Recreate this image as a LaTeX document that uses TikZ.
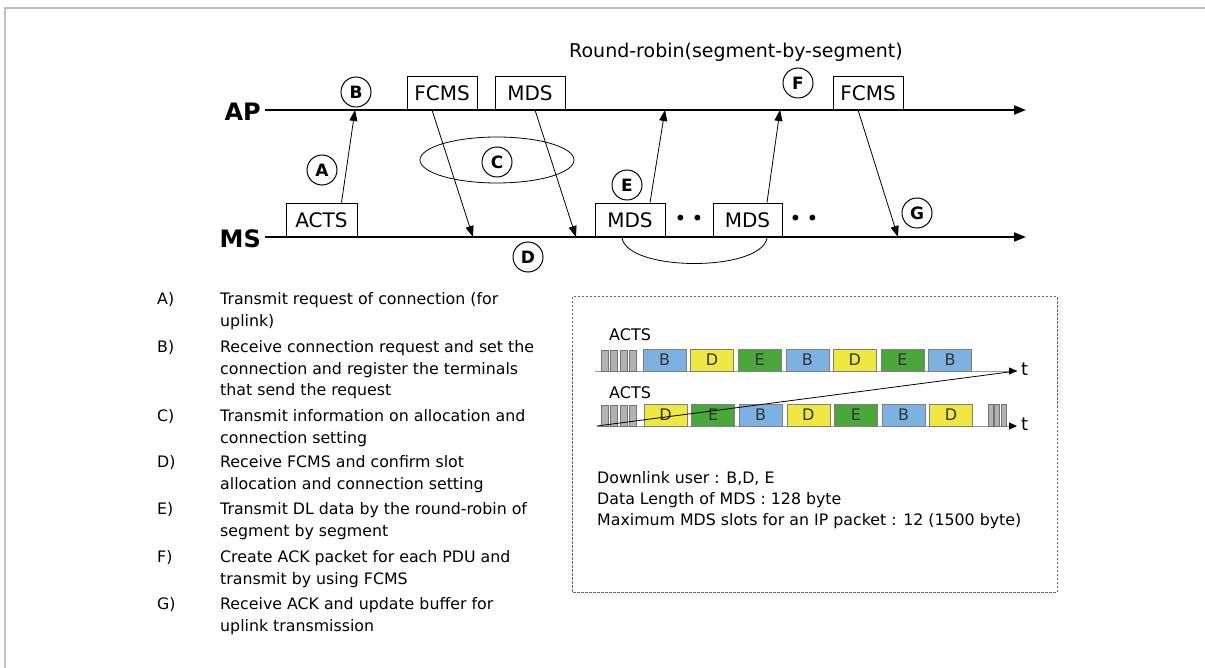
\documentclass[tikz,border=0pt]{standalone}
\usepackage{fontspec}
\setmainfont{DejaVu Sans}
\usetikzlibrary{arrows.meta,shapes.geometric}
\definecolor{slotblue}{RGB}{124,178,226}
\definecolor{slotyellow}{RGB}{238,232,64}
\definecolor{slotgreen}{RGB}{74,168,58}
\definecolor{framegray}{RGB}{192,192,192}
\tikzset{
	pkt/.style={draw,thin,minimum width=70pt,minimum height=34pt,inner sep=0pt,anchor=south,font=\fontsize{20}{24}\selectfont},
	evt/.style={draw,circle,line width=1pt,minimum size=30pt,inner sep=0pt,font=\bfseries\fontsize{17}{20}\selectfont},
	msg/.style={-{Triangle[length=11pt,width=8pt]},line width=0.8pt},
	slot/.style={draw=black!50,minimum width=43pt,minimum height=22pt,inner sep=0pt,anchor=south,text=black!80,font=\fontsize{16}{18}\selectfont},
	item/.style={align=left,inner sep=0pt,anchor=north west,font=\fontsize{15.8}{21.5}\selectfont},
}
\begin{document}
\begin{tikzpicture}[x=1pt,y=-1pt]
	\useasboundingbox (0,0) rectangle (1205,668);
	\draw[framegray,line width=2.5pt] (5,668) -- (5,8) -- (1205,8);

	\coordinate (ap0) at (265,110); \coordinate (ap1) at (1026,110);
	\coordinate (ms0) at (265,237); \coordinate (ms1) at (1026,237);
	\draw[line width=2pt,-{Triangle[length=12pt,width=9pt]}] (ap0) -- (ap1);
	\draw[line width=2pt,-{Triangle[length=12pt,width=9pt]}] (ms0) -- (ms1);
	\node[font=\bfseries\fontsize{24}{28}\selectfont,anchor=east,inner sep=0pt] (ap) at (261,112) {AP};
	\node[font=\bfseries\fontsize{24}{28}\selectfont,anchor=east,inner sep=0pt] (ms) at (261,239) {MS};
	\node[font=\fontsize{19}{22}\selectfont] (title) at (736,52) {Round-robin(segment-by-segment)};

	\node[pkt] (fcms1) at (442,110) {FCMS};
	\node[pkt] (mds1) at (530,110) {MDS};
	\node[pkt] (fcms2) at (868,110) {FCMS};
	\node[pkt,minimum width=71pt] (acts) at (321.5,237) {ACTS};
	\node[pkt] (mdsa) at (630,237) {MDS};
	\node[pkt,minimum width=69pt] (mdsb) at (747.5,237) {MDS};
	\node[font=\fontsize{20}{24}\selectfont] (dots1) at (689,220) {\textbullet\hspace{5pt}\textbullet};
	\node[font=\fontsize{20}{24}\selectfont] (dots2) at (804,220) {\textbullet\hspace{5pt}\textbullet};

	\node[draw,ellipse,line width=0.8pt,minimum width=154pt,minimum height=46pt] (alloc) at (497,160) {};
	\node[evt] (A) at (322,170) {A};
	\node[evt] (B) at (356,92) {B};
	\node[evt] (C) at (497,162) {C};
	\node[evt] (D) at (528,257) {D};
	\node[evt] (E) at (627,185) {E};
	\node[evt] (F) at (798,83) {F};
	\node[evt] (G) at (917,213) {G};

	\coordinate (rxB) at (355,110);
	\coordinate (rxD1) at (473,237);
	\coordinate (rxD2) at (576,237);
	\coordinate (rxE1) at (665,110);
	\coordinate (rxE2) at (780,110);
	\coordinate (rxG) at (898,237);
	\draw[msg] ([xshift=20pt]acts.north) -- (rxB);
	\draw[msg] ([xshift=-10pt]fcms1.south) -- (rxD1);
	\draw[msg] ([xshift=5pt]mds1.south) -- (rxD2);
	\draw[msg] ([xshift=20pt]mdsa.north) -- (rxE1);
	\draw[msg] ([xshift=19.5pt]mdsb.north) -- (rxE2);
	\draw[msg] ([xshift=-10pt]fcms2.south) -- (rxG);

	\coordinate (rr0) at (622,238); \coordinate (rr1) at (767,238);
	\draw[line width=0.8pt] (rr0) .. controls (628,272) and (761,272) .. (rr1);

	\foreach \k/\y in {A/300,B/348,C/417,D/463,E/510,F/558,G/605}
		\node[item,anchor=west] (l\k) at (157,\y) {\k)};
	\node[item] (tA) at (220,292.5) {Transmit request of connection (for\\uplink)};
	\node[item] (tB) at (220,340.5) {Receive connection request and set the\\connection and register the terminals\\that send the request};
	\node[item] (tC) at (220,409.5) {Transmit information on allocation and\\connection setting};
	\node[item] (tD) at (220,455.5) {Receive FCMS and confirm slot\\allocation and connection setting};
	\node[item] (tE) at (220,502.5) {Transmit DL data by the round-robin of\\segment by segment};
	\node[item] (tF) at (220,550.5) {Create ACK packet for each PDU and\\transmit by using FCMS};
	\node[item] (tG) at (220,597.5) {Receive ACK and update buffer for\\uplink transmission};

	\draw[black!60,dash pattern=on 2.5pt off 1.5pt,line width=1pt] (572,297) rectangle (1057,592);
	\node[item,font=\fontsize{15.8}{21}\selectfont] (legend) at (597,471) {Downlink user : B,D, E\\Data Length of MDS : 128 byte\\Maximum MDS slots for an IP packet : 12 (1500 byte)};

	\node[font=\fontsize{16}{18}\selectfont,anchor=west,inner sep=0pt] (acts1) at (609,335) {ACTS};
	\node[font=\fontsize{16}{18}\selectfont,anchor=west,inner sep=0pt] (acts2) at (609,393) {ACTS};
	\coordinate (tl1s) at (595,371); \coordinate (tl1e) at (1017,371);
	\coordinate (tl2s) at (597,426); \coordinate (tl2e) at (1017,426);
	\draw[black!40,line width=1pt,-{Triangle[length=8pt,width=7pt,color=black]}] (tl1s) -- (tl1e);
	\draw[black!40,line width=1pt,-{Triangle[length=8pt,width=7pt,color=black]}] (tl2s) -- (tl2e);
	\foreach \i in {0,...,3} {
		\filldraw[fill=black!30,draw=black!55] ({601+9.5*\i},350) rectangle +(7,21);
		\filldraw[fill=black!30,draw=black!55] ({601+9.5*\i},405) rectangle +(7,21);
	}
	\foreach \i in {0,1,2}
		\filldraw[fill=black!30,draw=black!55] ({988+6.5*\i},404) rectangle +(5,22);
	\foreach \l/\c [count=\i from 0] in {B/slotblue,D/slotyellow,E/slotgreen,B/slotblue,D/slotyellow,E/slotgreen,B/slotblue}
		\node[slot,fill=\c] (sa\i) at ({664.5+47.6*\i},371) {\l};
	\foreach \l/\c [count=\i from 0] in {D/slotyellow,E/slotgreen,B/slotblue,D/slotyellow,E/slotgreen,B/slotblue,D/slotyellow}
		\node[slot,fill=\c] (sb\i) at ({665.5+47.6*\i},426) {\l};
	\draw[line width=0.8pt] (tl2s) -- (tl1e);
	\node[font=\fontsize{18}{20}\selectfont,anchor=west,inner sep=0pt] (t1) at (1021,369) {t};
	\node[font=\fontsize{18}{20}\selectfont,anchor=west,inner sep=0pt] (t2) at (1021,424) {t};
\end{tikzpicture}
\end{document}
